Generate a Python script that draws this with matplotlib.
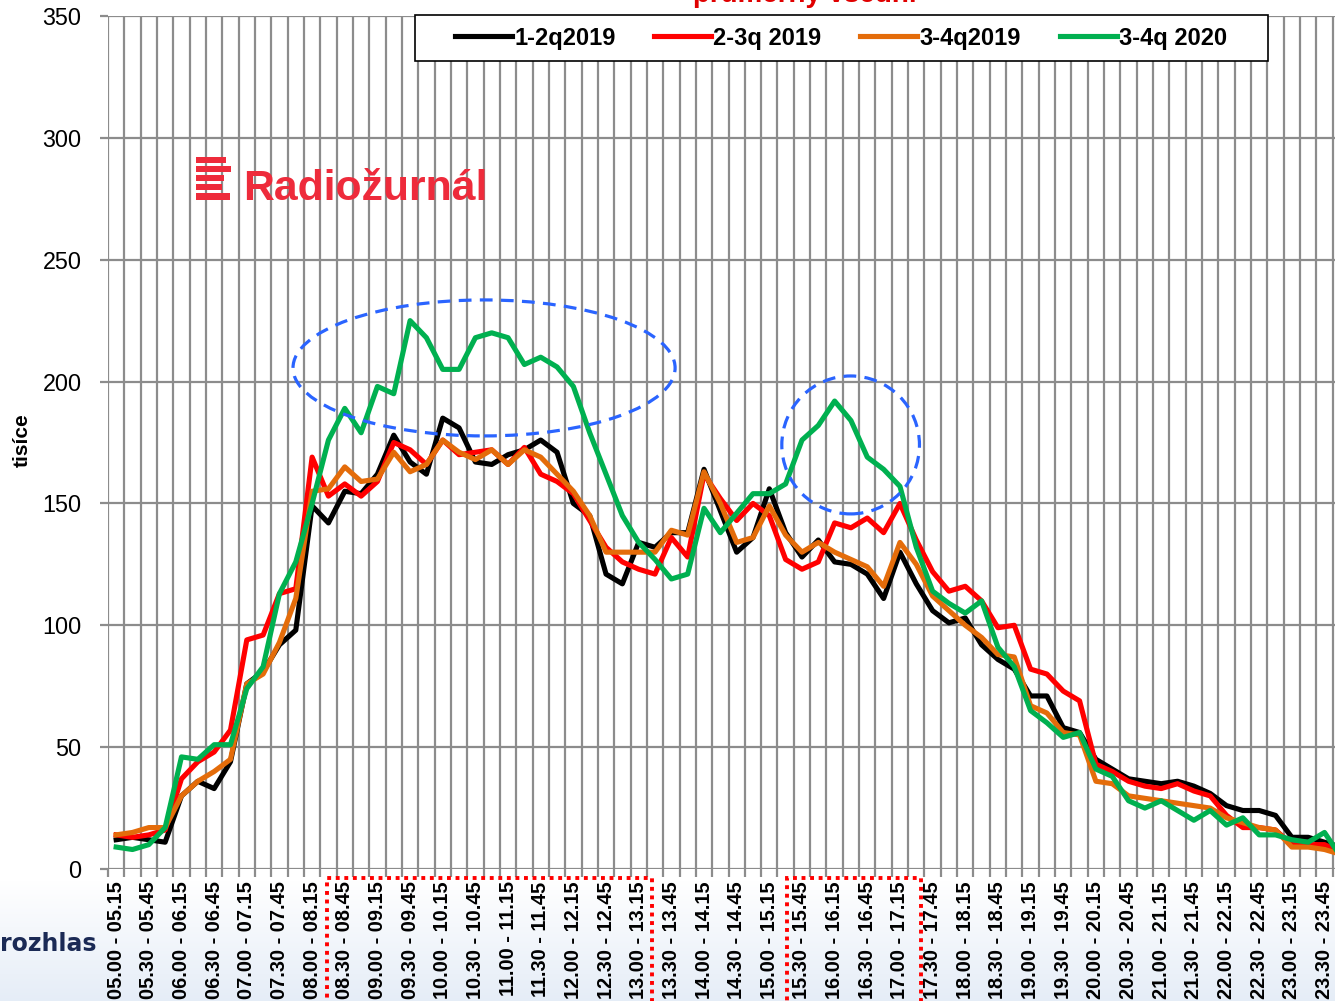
import numpy as np
import matplotlib
matplotlib.use('Agg')
import matplotlib.pyplot as plt
from matplotlib.patches import Ellipse, Rectangle
from matplotlib import transforms, font_manager

# ---------------- data ----------------
slots = []
for h in range(5, 24):
    for m in (0, 15, 30, 45):
        h2, m2 = (h, m + 15) if m < 45 else (h + 1, 0)
        slots.append(f"{h:02d}.{m:02d} - {h2:02d}.{m2:02d}")

series_names = ["1-2q2019", "2-3q 2019", "3-4q2019", "3-4q 2020"]
series_colors = ["#000000", "#ff0000", "#e46c0a", "#00b050"]

q12_2019 = [12, 13, 12, 11, 30, 36, 33, 44, 76, 81, 92, 98, 149, 142, 155, 154,
            162, 178, 167, 162, 185, 181, 167, 166, 170, 172, 176, 171, 150, 145,
            121, 117, 134, 132, 138, 138, 164, 147, 130, 136, 156, 138, 128, 135,
            126, 125, 121, 111, 130, 117, 106, 101, 103, 92, 86, 82, 71, 71, 58,
            56, 45, 41, 37, 36, 35, 36, 34, 31, 26, 24, 24, 22, 13, 13, 11, 9]
q23_2019 = [14, 13, 14, 16, 37, 44, 48, 57, 94, 96, 113, 115, 169, 153, 158, 153,
            159, 175, 172, 166, 176, 170, 171, 172, 166, 173, 162, 159, 154, 143,
            132, 126, 123, 121, 136, 128, 162, 152, 143, 150, 145, 127, 123, 126,
            142, 140, 144, 138, 150, 135, 122, 114, 116, 110, 99, 100, 82, 80, 73,
            69, 43, 40, 36, 34, 33, 35, 32, 30, 22, 17, 17, 16, 10, 10, 10, 7]
q34_2019 = [14, 15, 17, 17, 30, 36, 40, 45, 76, 80, 93, 111, 155, 156, 165, 159,
            160, 171, 163, 166, 176, 171, 168, 172, 166, 172, 169, 162, 155, 145,
            130, 130, 130, 130, 139, 137, 163, 150, 134, 136, 149, 137, 130, 134,
            130, 127, 124, 116, 134, 125, 112, 106, 100, 95, 88, 87, 67, 64, 56,
            55, 36, 35, 30, 29, 28, 27, 26, 25, 21, 19, 17, 16, 9, 9, 8, 6]
q34_2020 = [9, 8, 10, 17, 46, 45, 51, 51, 74, 83, 113, 126, 150, 176, 189, 179,
            198, 195, 225, 218, 205, 205, 218, 220, 218, 207, 210, 206, 198, 179,
            162, 145, 134, 127, 119, 121, 148, 138, 146, 154, 154, 158, 176, 182,
            192, 184, 169, 164, 157, 132, 114, 109, 105, 110, 91, 83, 65, 60, 54,
            56, 41, 38, 28, 25, 28, 24, 20, 24, 18, 21, 14, 14, 12, 11, 15, 5]

y_ticks = [0, 50, 100, 150, 200, 250, 300, 350]

# ---------------- fonts ----------------
names = {f.name for f in font_manager.fontManager.ttflist}
base_font = "Liberation Sans" if "Liberation Sans" in names else "DejaVu Sans"
narrow_font = "Liberation Sans Narrow" if "Liberation Sans Narrow" in names else base_font
plt.rcParams['font.family'] = [base_font, 'DejaVu Sans']

W, H = 1335, 1001
fig = plt.figure(figsize=(W / 100, H / 100), dpi=100)
fig.patch.set_facecolor('white')

# light gradient at the bottom of the slide
bg = fig.add_axes([0, 0, 1, 0.12], zorder=-5)
grad = np.linspace(0, 1, 100).reshape(-1, 1)
c0 = np.array([1.0, 1.0, 1.0]); c1 = np.array([0.90, 0.93, 0.97])
img = c0 * (1 - grad[..., None]) + c1 * grad[..., None]
bg.imshow(img, aspect='auto', extent=[0, 1, 0, 1], origin='upper')
bg.axis('off')

ax = fig.add_axes([108 / W, (H - 869) / H, (1349 - 108) / W, (869 - 16) / H])
ax.set_facecolor('none')
x = np.arange(len(slots)) + 0.5
for vals, name, col in zip([q12_2019, q23_2019, q34_2019, q34_2020], series_names, series_colors):
    ax.plot(x, vals, color=col, lw=3.7, label=name, solid_joinstyle='round', zorder=3)

ax.set_xlim(0, len(slots))
ax.set_ylim(0, 350)
gray = '#8c8c8c'
ax.set_xticks(np.arange(0, len(slots) + 1), minor=True)
ax.set_xticks(x[::2])
ax.set_xticklabels(slots[::2], rotation=90, fontsize=14.4, fontweight='bold')
ax.set_yticks(y_ticks)
ax.set_yticklabels([str(v) for v in y_ticks], fontsize=16.8)
ax.xaxis.grid(True, which='minor', color=gray, lw=1.6)
ax.yaxis.grid(True, which='major', color=gray, lw=1.6)
ax.tick_params(axis='x', which='minor', length=6, width=1.6, color=gray, direction='out')
ax.tick_params(axis='x', which='major', length=0, pad=9)
ax.tick_params(axis='y', which='major', length=6, width=1.6, color=gray, pad=13)
for s in ax.spines.values():
    s.set_visible(False)
ax.set_axisbelow(True)

# dashed highlight ellipses
for (xc, yc, w, h) in [(23.03, 205.6, 23.4, 55.8), (45.48, 174.0, 8.43, 56.6)]:
    ax.add_patch(Ellipse((xc, yc), w, h, fill=False, edgecolor='#2a64ff', lw=2.3,
                         linestyle=(0, (4, 2.6)), zorder=4))

# red dotted boxes around highlighted time labels
tr = transforms.blended_transform_factory(ax.transData, ax.transAxes)
for (x0, x1) in [(13.41, 33.31), (41.58, 49.79)]:
    ax.add_patch(Rectangle((x0, -0.35), x1 - x0, 0.35 - 0.0106, transform=tr, fill=False,
                           edgecolor='#ff0000', lw=2.8, linestyle=(0, (1, 1.2)),
                           clip_on=False, zorder=5))

# legend: entries without frame + separate frame box
def px_to_ax(px, py):
    return ((px - 108) / (1349 - 108), (869 - py) / (869 - 16))

lx, ly = px_to_ax(455, 38)
leg = ax.legend(loc='center left', bbox_to_anchor=(lx, ly), ncol=4,
                frameon=False, borderaxespad=0, borderpad=0, handlelength=2.4,
                handletextpad=0.1, columnspacing=1.65,
                prop={'family': [narrow_font, 'DejaVu Sans'], 'weight': 'bold', 'size': 17})
for lh in leg.get_lines():
    lh.set_linewidth(3.7)
fx0, fy1 = px_to_ax(415, 61)
fx1, fy0 = px_to_ax(1268, 15)
ax.add_patch(Rectangle((fx0, fy1), fx1 - fx0, fy0 - fy1, transform=ax.transAxes,
                       facecolor='white', edgecolor='black', lw=1.2, zorder=6, clip_on=False))
leg.set_zorder(7)

fig.text(22 / W, 1 - 440 / H, 'tisíce', rotation=90, fontsize=15, fontweight='bold',
         ha='center', va='center')

# partially visible title (cut at the top edge, as in the original)
fig.text(805 / W, 1 - 2 / H, 'průměrný všední', color='#e00000', fontsize=20,
         fontweight='bold', ha='center', va='baseline')

# Radiožurnál logo
logo_red = '#ee2b3b'
fig.text(243 / W, 1 - 200 / H, 'Radiožurnál', color=logo_red, fontsize=30.8,
         fontweight='bold', ha='left', va='baseline')
for (y0, y1, xr) in [(157, 163, 226), (166, 172, 231), (175, 181, 224), (184, 190, 222), (193, 200, 230)]:
    fig.add_artist(Rectangle((196 / W, 1 - y1 / H), (xr - 196) / W, (y1 - y0) / H,
                             transform=fig.transFigure, color=logo_red, lw=0))

fig.text(0, 1 - 944 / H, 'rozhlas', color='#1b2a55', fontsize=17, fontweight='bold',
         family='DejaVu Sans', ha='left', va='center')

fig.savefig('out.png', dpi=100)
